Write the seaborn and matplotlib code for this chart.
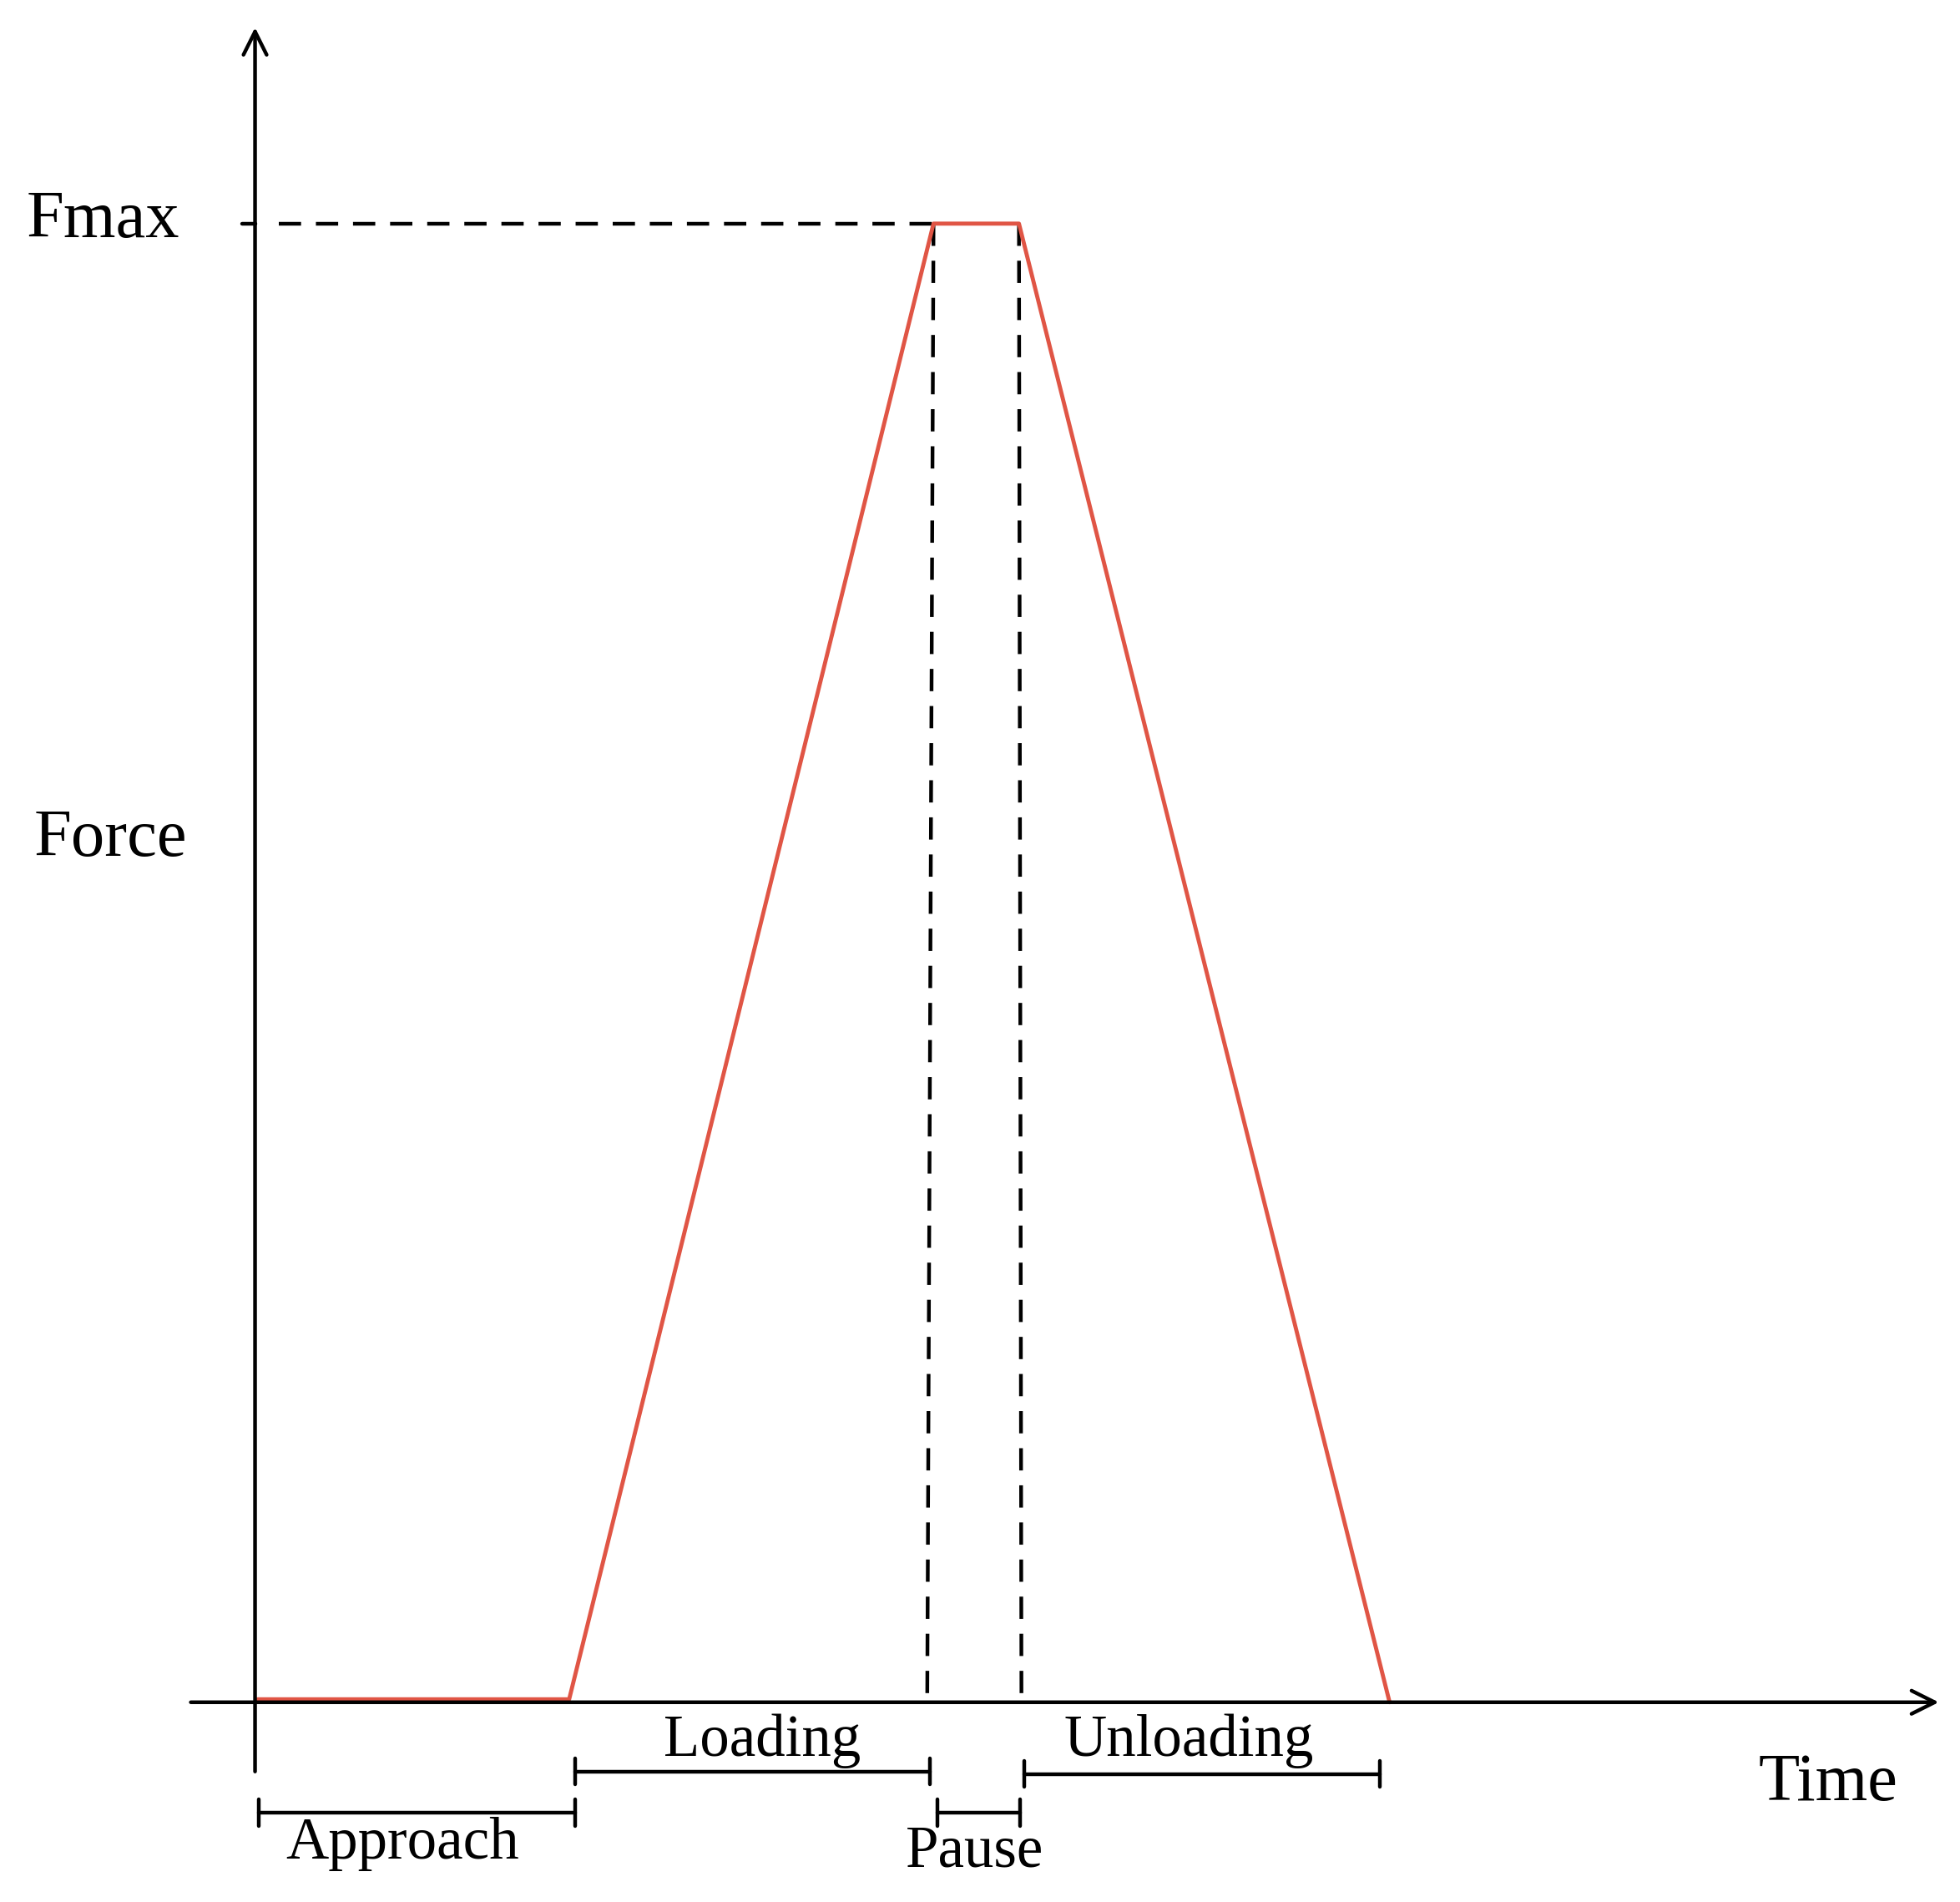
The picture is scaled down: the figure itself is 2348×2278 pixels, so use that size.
import matplotlib
matplotlib.use("Agg")
import matplotlib.pyplot as plt
import seaborn as sns
import pandas as pd

sns.set_theme(style="white")
plt.rcParams['font.family'] = ['Liberation Serif', 'DejaVu Serif']
plt.rcParams['text.color'] = 'black'

# data: time (arbitrary units) and normalized force (Fmax = 1)
time = [2, 250, 540, 608, 903]
force = [0.002, 0.002, 1.0, 1.0, 0.0]
phase_names = ["Approach", "Loading", "Pause", "Unloading"]
phase_start = [3, 255, 543, 612]
phase_end = [255, 537, 609, 895]

df = pd.DataFrame({"time": time, "force": force})

fig = plt.figure(figsize=(23.48, 22.78), dpi=100)
ax = fig.add_axes([0, 0, 1, 1])
ax.set_xlim(-203, 1560 - 203)
ax.set_ylim((1355 - 1514) / 1177, 1355 / 1177)
ax.axis("off")

def fy(py):
    return (1355 - py) / 1177

lw = 3.2
# axes arrows
ax.annotate("", xy=(0, fy(20)), xytext=(0, fy(1412)),
            arrowprops=dict(arrowstyle="->", lw=lw, color="black", mutation_scale=50))
ax.annotate("", xy=(1342, 0), xytext=(-53, 0),
            arrowprops=dict(arrowstyle="->", lw=lw, color="black", mutation_scale=50))

# dashed guides
dash = (0, (6, 4))
ax.plot([19, 540], [1, 1], color="black", lw=lw, linestyle=dash)
ax.plot([-10, 0], [1, 1], color="black", lw=lw)
ax.plot([540, 535], [1, 0], color="black", lw=lw, linestyle=dash)
ax.plot([608, 610], [1, 0], color="black", lw=lw, linestyle=dash)

sns.lineplot(data=df, x="time", y="force", ax=ax, color="#e05545", lw=3.5, sort=False)

# phase brackets
bracket_y = [fy(1443), fy(1410), fy(1443), fy(1412)]
label_y = [fy(1468), fy(1386), fy(1474), fy(1386)]
label_x = [320 - 203, 607 - 203, 776 - 203, 946 - 203]
h = 0.009
for name, s, e, by, ly, lx in zip(phase_names, phase_start, phase_end, bracket_y, label_y, label_x):
    ax.plot([s, e], [by, by], color="black", lw=lw)
    ax.plot([s, s], [by - h, by + h], color="black", lw=lw)
    ax.plot([e, e], [by - h, by + h], color="black", lw=lw)
    ax.text(lx, ly, name, ha="center", va="center", fontsize=51, color="black")

ax.text(1455 - 203, fy(1420), "Time", ha="center", va="center", fontsize=58, color="black")
ax.text(88 - 203, fy(668), "Force", ha="center", va="center", fontsize=58, color="black")
ax.text(82 - 203, fy(176), "Fmax", ha="center", va="center", fontsize=58, color="black")

fig.savefig("out.png", dpi=100, facecolor="white")
